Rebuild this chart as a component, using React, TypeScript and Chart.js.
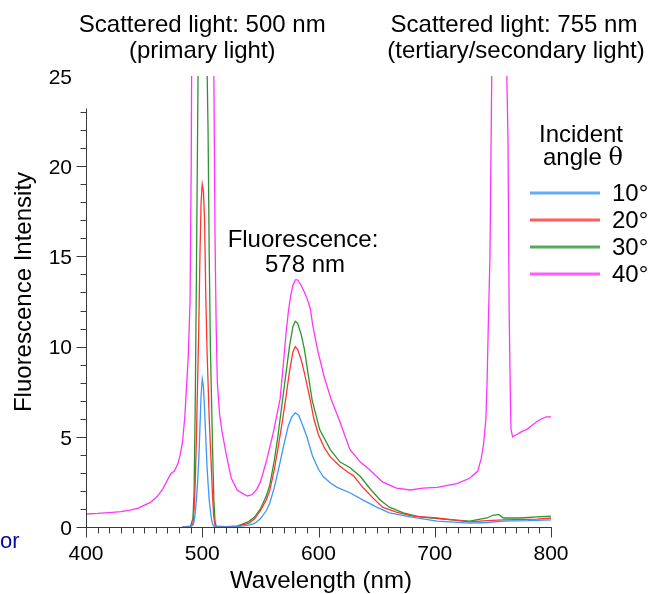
import { useEffect, useRef } from 'react';
import { Chart, registerables } from 'chart.js';
Chart.register(...registerables);

// ---- data (wavelength nm / fluorescence intensity) ----
const blueWl = [483, 490, 492, 493, 494, 495, 496, 497, 498, 499, 500, 501, 502, 503, 504, 505, 506, 507, 508, 509, 510, 512, 520, 530, 540, 545, 550, 555, 558, 562, 566, 570, 574, 577, 580, 583, 586, 590, 595, 600, 604, 610, 616, 627, 638, 650, 661, 679, 702, 730, 745, 759, 780, 800];
const blueVal = [0, 0.02, 0.1, 0.3, 0.8, 1.5, 2.5, 3.7, 5.5, 7.3, 8.2, 7.8, 6.5, 5.0, 3.5, 2.4, 1.5, 0.9, 0.4, 0.15, 0.05, 0, 0, 0.02, 0.1, 0.2, 0.45, 0.9, 1.3, 2.2, 3.3, 4.5, 5.6, 6.1, 6.33, 6.2, 5.7, 5.0, 3.9, 3.2, 2.8, 2.45, 2.2, 1.9, 1.5, 1.1, 0.78, 0.56, 0.33, 0.22, 0.25, 0.33, 0.35, 0.4];

const redWl = [483, 490, 492, 493, 494, 495, 496, 497, 498, 499, 500, 501, 502, 503, 504, 505, 506, 507, 508, 509, 510, 511, 512, 520, 530, 540, 545, 550, 555, 558, 562, 565, 569, 572, 575, 578, 580, 582, 585, 588, 590, 593, 596, 600, 605, 610, 618, 625, 630, 638, 647, 655, 667, 681, 702, 730, 745, 759, 788, 800];
const redVal = [0, 0.03, 0.2, 1, 2.5, 5, 8, 11, 15, 18, 19, 18.6, 17, 13, 10, 8, 6, 4.5, 3, 1.5, 0.5, 0.1, 0, 0, 0.05, 0.2, 0.45, 0.9, 1.5, 2.0, 3.2, 4.3, 5.9, 7.2, 8.6, 9.7, 10.0, 9.85, 9.3, 8.5, 7.9, 7.0, 6.0, 5.1, 4.4, 3.9, 3.4, 3.05, 2.85, 2.2, 1.6, 1.1, 0.83, 0.6, 0.5, 0.28, 0.35, 0.39, 0.44, 0.5];

const greenWl = [483, 490, 492, 493, 494, 495, 496, 497, 500, 503, 504, 505, 506, 507, 508, 509, 510, 511, 512, 520, 530, 540, 545, 550, 555, 558, 562, 565, 569, 572, 575, 578, 580, 582, 585, 588, 591, 594.5, 601, 610, 618.5, 627, 636, 644, 653, 661, 673, 687, 707, 730, 745, 750, 755, 759, 773, 788, 800];
const greenVal = [0, 0.05, 0.5, 2, 7, 14, 22, 30, 40, 32, 26, 22, 15, 10, 7, 4, 1.5, 0.3, 0.05, 0.02, 0.05, 0.3, 0.55, 1.0, 1.7, 2.3, 3.7, 5.0, 7.0, 8.5, 10.0, 11.1, 11.4, 11.3, 10.7, 9.8, 8.5, 7.05, 5.4, 4.3, 3.6, 3.3, 2.8, 2.15, 1.5, 1.1, 0.78, 0.56, 0.44, 0.33, 0.5, 0.65, 0.7, 0.5, 0.5, 0.56, 0.6];

const magentaWl = [400, 410, 420, 430, 438, 445, 449, 455, 461, 466, 470, 473, 476, 479, 481, 483, 485, 488, 489.5, 490.5, 491.2, 492, 509, 510, 511, 512, 513, 515, 517, 521, 525, 530, 535, 539, 543, 547, 550, 555, 561, 567, 570, 572, 574, 576, 578, 580, 582, 585, 588, 590, 593, 595, 598, 600, 605, 611, 618, 627, 636, 644, 655, 667, 679, 690, 702, 719, 730, 737, 740, 742, 744, 745, 746, 747.5, 749, 751, 760, 762, 763, 764, 765, 765.6, 767, 770, 775, 779, 783, 788, 792, 796, 800];
const magentaVal = [0.72, 0.75, 0.8, 0.85, 0.94, 1.05, 1.17, 1.35, 1.67, 2.1, 2.6, 2.95, 3.1, 3.5, 4.0, 4.7, 6.1, 9.5, 12.5, 20, 30, 45, 45, 25, 16, 11, 8, 6.2, 5.3, 3.9, 2.7, 2.05, 1.85, 1.72, 1.8, 2.1, 2.5, 3.6, 5.2, 7.1, 9.2, 10.7, 11.9, 12.8, 13.4, 13.7, 13.7, 13.4, 13.0, 12.7, 12.1, 11.2, 10.2, 9.6, 8.3, 7.05, 5.9, 4.3, 3.6, 3.17, 2.5, 2.15, 2.05, 2.15, 2.2, 2.4, 2.7, 3.1, 3.8, 4.6, 6, 8, 11, 15, 25, 45, 45, 25, 21.5, 12, 7.4, 5.4, 5.0, 5.1, 5.3, 5.4, 5.6, 5.85, 6.0, 6.1, 6.1];

const seriesLabels = ['10°', '20°', '30°', '40°'];
const seriesColors = ['#3d97f7', '#ff3535', '#2f942f', '#ff33ff'];

const xMin = 400;
const xMax = 800;
const yMin = 0;
const yMax = 25;

const FONT = '"Liberation Sans", Arial, Helvetica, sans-serif';
const AXIS_COLOR = '#3a3a3a';

const toPoints = (wl: number[], val: number[]) => wl.map((x, i) => ({ x, y: val[i] }));

const textPlugin = {
  id: 'annotations',
  afterDraw(chart: any) {
    const ctx = chart.ctx as CanvasRenderingContext2D;
    const xs = chart.scales.x;
    const ys = chart.scales.y;
    const area = chart.chartArea;
    ctx.save();

    // axis lines
    ctx.strokeStyle = AXIS_COLOR;
    ctx.lineWidth = 1;
    const y0 = Math.round(ys.getPixelForValue(0)) + 0.5;
    const xl = Math.round(area.left) + 0.5;
    ctx.beginPath();
    ctx.moveTo(xl - 9, y0);
    ctx.lineTo(xs.getPixelForValue(800) + 1, y0);
    ctx.moveTo(xl, y0 + 3);
    ctx.lineTo(xl, ys.getPixelForValue(23.2));
    ctx.stroke();

    // ticks (minor 6px, major 10px)
    ctx.beginPath();
    for (let v = 0; v <= 23; v += 1) {
      const py = Math.round(ys.getPixelForValue(v)) + 0.5;
      const len = v % 5 === 0 ? 10 : 6;
      ctx.moveTo(xl - len, py);
      ctx.lineTo(xl, py);
    }
    for (let v = 400; v <= 800; v += 10) {
      const px = Math.round(xs.getPixelForValue(v)) + 0.5;
      const len = v % 100 === 0 ? 10 : 6;
      ctx.moveTo(px, y0);
      ctx.lineTo(px, y0 + len);
    }
    ctx.stroke();

    // texts
    ctx.fillStyle = '#000';
    ctx.textAlign = 'center';
    ctx.textBaseline = 'alphabetic';
    ctx.font = `24px ${FONT}`;
    const c1 = xs.getPixelForValue(500);
    ctx.fillText('Scattered light: 500 nm', c1, 32);
    ctx.fillText('(primary light)', c1, 58);
    ctx.fillText('Scattered light: 755 nm', 514, 32);
    ctx.fillText('(tertiary/secondary light)', 516, 58);
    ctx.fillText('Fluorescence:', 303, 247);
    ctx.fillText('578 nm', 305, 272);

    // axis titles
    ctx.fillText('Wavelength (nm)', 321, 588);
    ctx.save();
    ctx.translate(31, 292);
    ctx.rotate(-Math.PI / 2);
    ctx.fillText('Fluorescence Intensity', 0, 0);
    ctx.restore();

    // legend
    ctx.fillText('Incident', 581, 142);
    ctx.textAlign = 'left';
    ctx.fillText('angle ', 543, 165);
    const aw = ctx.measureText('angle ').width;
    ctx.font = `24px "DejaVu Serif", "Liberation Serif", serif`;
    ctx.fillText('θ', 543 + aw, 165);
    ctx.font = `24px ${FONT}`;
    ctx.textBaseline = 'middle';
    const legendY = [193, 220, 247, 274];
    seriesLabels.forEach((lab, i) => {
      ctx.strokeStyle = seriesColors[i];
      ctx.globalAlpha = 0.8;
      ctx.lineWidth = 3;
      ctx.beginPath();
      ctx.moveTo(530, legendY[i]);
      ctx.lineTo(600, legendY[i]);
      ctx.stroke();
      ctx.globalAlpha = 1;
      ctx.fillStyle = '#000';
      ctx.fillText(lab, 612, legendY[i] + 1);
    });

    // stray text
    ctx.textBaseline = 'alphabetic';
    ctx.fillStyle = '#0a0a9a';
    ctx.font = `22px ${FONT}`;
    ctx.fillText('or', 0, 548);
    ctx.restore();
  },
};

export default function App() {
  const canvasRef = useRef<HTMLCanvasElement | null>(null);

  useEffect(() => {
    if (!canvasRef.current) return;
    const allWl = [blueWl, redWl, greenWl, magentaWl];
    const allVal = [blueVal, redVal, greenVal, magentaVal];
    const chart = new Chart(canvasRef.current, {
      type: 'line',
      data: {
        datasets: seriesLabels.map((label, i) => ({
          label,
          data: toPoints(allWl[i], allVal[i]),
          borderColor: seriesColors[i],
          backgroundColor: seriesColors[i],
          borderWidth: 1.3,
          pointRadius: 0,
          tension: 0,
          fill: false,
        })),
      },
      options: {
        animation: false,
        responsive: true,
        maintainAspectRatio: false,
        events: [],
        layout: { padding: { top: 76, right: 98, left: 0, bottom: 0 } },
        plugins: {
          legend: { display: false },
          tooltip: { enabled: false },
          title: { display: false },
        },
        scales: {
          x: {
            type: 'linear',
            min: xMin,
            max: xMax,
            border: { display: false },
            grid: { drawOnChartArea: false, drawTicks: true, tickLength: 6, tickColor: 'rgba(0,0,0,0)' },
            ticks: {
              stepSize: 100,
              autoSkip: false,
              maxRotation: 0,
              padding: 9,
              color: '#000',
              font: { family: FONT, size: 21 },
            },
            afterFit: (s: any) => { s.height = 67; },
          },
          y: {
            type: 'linear',
            min: yMin,
            max: yMax,
            border: { display: false },
            grid: { drawOnChartArea: false, drawTicks: true, tickLength: 6, tickColor: 'rgba(0,0,0,0)' },
            ticks: {
              stepSize: 5,
              autoSkip: false,
              padding: 8,
              labelOffset: 2,
              color: '#000',
              font: { family: FONT, size: 21 },
            },
            afterFit: (s: any) => { s.width = 86; },
          },
        },
      },
      plugins: [textPlugin],
    });
    return () => chart.destroy();
  }, []);

  return (
    <div style={{ position: 'fixed', left: 0, top: 0, width: 649, height: 594, background: '#fff' }}>
      <canvas ref={canvasRef} />
    </div>
  );
}
